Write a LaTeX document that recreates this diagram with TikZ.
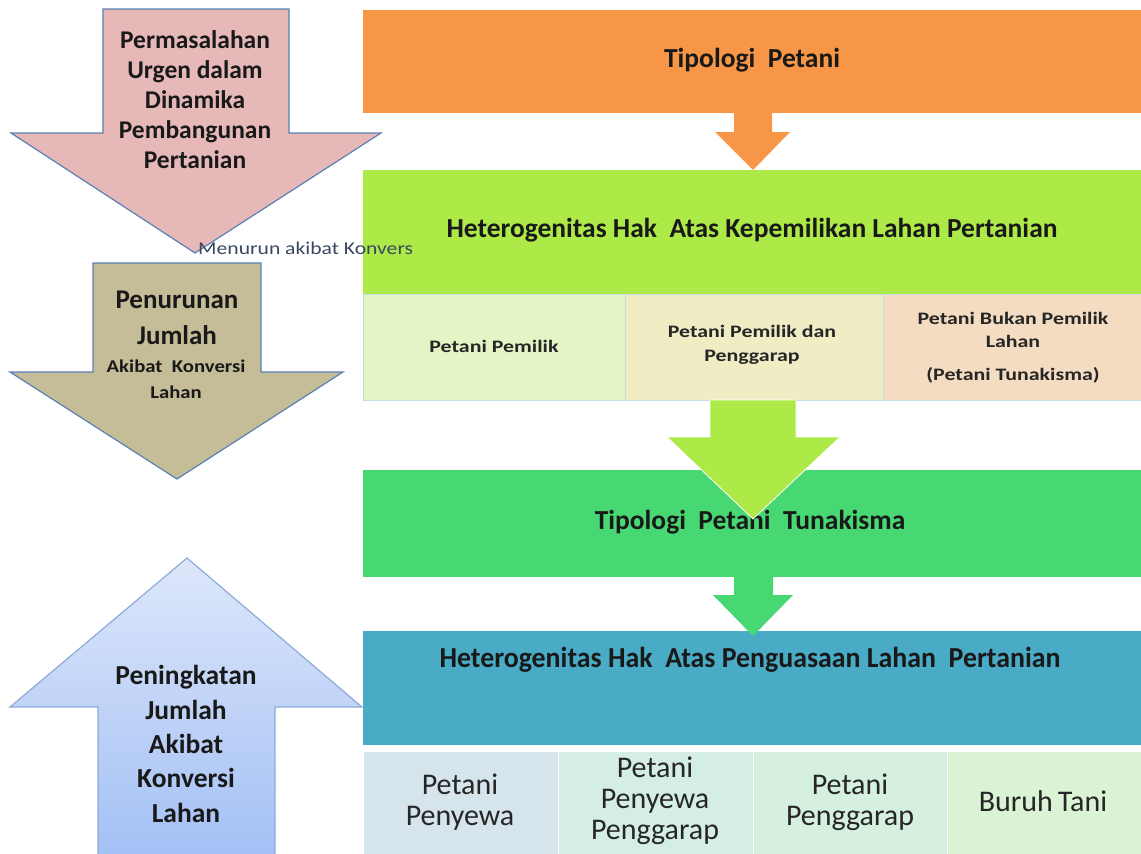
\documentclass[tikz,border=0pt]{standalone}
\usepackage{fontspec}
\setmainfont{Carlito}
\definecolor{orangeC}{HTML}{F79646}
\definecolor{limeC}{HTML}{ADE947}
\definecolor{greenC}{HTML}{47D873}
\definecolor{tealC}{HTML}{4AABC6}
\definecolor{pinkC}{HTML}{E6B9B8}
\definecolor{tanC}{HTML}{C4BD97}
\definecolor{edgeC}{HTML}{5B80B2}
\definecolor{blueTop}{HTML}{DDE7FA}
\definecolor{blueBot}{HTML}{A3C0F5}
\definecolor{blueEdge}{HTML}{8EAAD6}
\definecolor{cA}{HTML}{E3F4C5}
\definecolor{cB}{HTML}{F0EDC5}
\definecolor{cC}{HTML}{F3DCC1}
\definecolor{dA}{HTML}{D6E5EC}
\definecolor{dB}{HTML}{D4EEE7}
\definecolor{dC}{HTML}{D5F0DF}
\definecolor{dD}{HTML}{DBF3D5}
\definecolor{cellEdge}{HTML}{C9DCE4}
\definecolor{noteC}{HTML}{3A4760}
\begin{document}
\begin{tikzpicture}[x=1pt,y=-1pt,
  hdr/.style={font=\fontsize{27.5}{32}\selectfont\bfseries, text=black!90},
  lefttxt/.style={align=center, text=black!90},
  cellA/.style={draw=cellEdge, line width=0.8pt},
  smallcell/.style={align=center, font=\fontsize{17.5}{24}\selectfont\bfseries, text=black!85, xscale=1.25},
  bigcell/.style={align=center, font=\fontsize{30}{31}\selectfont, text=black!85},
  blockarrow/.style={draw=edgeC, line width=1.2pt, line join=miter}
]
\useasboundingbox (0,0) rectangle (1141,854);

% ---------- left arrows ----------
\path[blockarrow, fill=pinkC] (103,9) -- (289,9) -- (289,133) -- (381,133) -- (195,253) -- (11,133) -- (103,133) -- cycle;
\node[lefttxt, font=\fontsize{25.5}{30}\selectfont\bfseries] (perm) at (195,100) {Permasalahan\\Urgen dalam\\Dinamika\\Pembangunan\\Pertanian};

\path[blockarrow, fill=tanC] (93,263) -- (261,263) -- (261,372) -- (343,372) -- (177,479) -- (10,372) -- (93,372) -- cycle;
\node[lefttxt, font=\fontsize{27}{36}\selectfont\bfseries] (penur) at (177,318) {Penurunan\\Jumlah};
\node[lefttxt, font=\fontsize{18}{26}\selectfont\bfseries, xscale=1.15] (akib) at (176,379) {Akibat\ \ Konversi\\Lahan};

\path[top color=blueTop, bottom color=blueBot, draw=blueEdge, line width=1.2pt, line join=miter]
  (187,558) -- (362,707) -- (275,707) -- (275,856) -- (98,856) -- (98,707) -- (10,707) -- cycle;
\node[lefttxt, font=\fontsize{27.5}{34.3}\selectfont\bfseries] (pening) at (186,744) {Peningkatan\\Jumlah\\Akibat\\Konversi\\Lahan};

% ---------- right column ----------
\fill[orangeC] (363,10) rectangle (1141,113);
\node[hdr] (tip) at (752,60) {Tipologi\ \ Petani};
\fill[orangeC] (734,112) -- (734,132) -- (715,132) -- (753,170) -- (790,132) -- (772,132) -- (772,112) -- cycle;

\fill[limeC] (363,170) rectangle (1141,294);
\node[hdr] (het1) at (752,230) {Heterogenitas Hak\ \ Atas Kepemilikan Lahan Pertanian};

\path[cellA, fill=cA] (363,294) rectangle (625,400);
\path[cellA, fill=cB] (625,294) rectangle (883,400);
\path[cellA, fill=cC] (883,294) rectangle (1141,400);
\node[smallcell] (c1) at (494,346) {Petani Pemilik};
\node[smallcell] (c2) at (752,345) {Petani Pemilik dan\\Penggarap};
\node[smallcell, font=\fontsize{17.5}{23}\selectfont\bfseries] (c3) at (1013,330) {Petani Bukan Pemilik\\Lahan};
\node[smallcell] (c3b) at (1013,375) {(Petani Tunakisma)};

\fill[greenC] (363,470) rectangle (1141,577);
\node[hdr] (tip2) at (750,522) {Tipologi\ \ Petani\ \ Tunakisma};
\path[fill=limeC, draw=white, line width=0.8pt] (710,400) -- (710,437) -- (667,437) -- (753,519) -- (840,437) -- (796,437) -- (796,400) -- cycle;

\fill[tealC] (363,631) rectangle (1141,745);
\node[font=\fontsize{29}{32}\selectfont\bfseries, text=black!90, xscale=0.96] (het2) at (750,660) {Heterogenitas Hak\ \ Atas Penguasaan Lahan\ \ Pertanian};
\fill[greenC] (734,576) -- (734,595) -- (713,595) -- (753,636) -- (793,595) -- (773,595) -- (773,576) -- cycle;

\path[cellA, draw=white, fill=dA] (363,751) rectangle (558,856);
\path[cellA, draw=white, fill=dB] (558,751) rectangle (753,856);
\path[cellA, draw=white, fill=dC] (753,751) rectangle (947,856);
\path[cellA, draw=white, fill=dD] (947,751) rectangle (1141,856);
\node[bigcell] (e1) at (460,802) {Petani\\Penyewa};
\node[bigcell] (e2) at (655,801) {Petani\\Penyewa\\Penggarap};
\node[bigcell] (e3) at (850,802) {Petani\\Penggarap};
\node[bigcell] (e4) at (1043,801) {Buruh\,Tani};

% ---------- note ----------
\node[font=\fontsize{18}{20}\selectfont, text=noteC, anchor=west, inner sep=0pt, xscale=1.2] (note) at (198,248) {Menurun akibat Konvers};
\end{tikzpicture}
\end{document}
